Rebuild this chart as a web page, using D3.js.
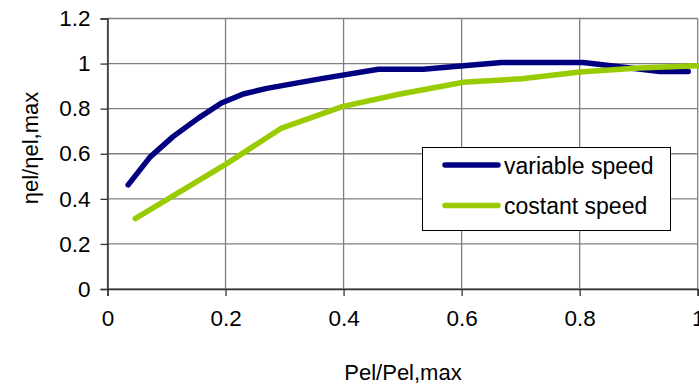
<!DOCTYPE html>
<html>
<head>
<meta charset="utf-8">
<script src="https://cdn.jsdelivr.net/npm/d3@7"></script>
<style>
  body { margin: 0; background: #fff; }
  svg { display: block; font-family: "Liberation Sans", Arial, sans-serif; }
</style>
</head>
<body>
<svg></svg>
<script>
const width = 699;
const height = 384;
const margin = { top: 18.5, right: 1.3, bottom: 95, left: 107.5 };

// data
const variableX = [0.035, 0.072, 0.111, 0.154, 0.193, 0.23, 0.27, 0.36, 0.459, 0.535, 0.603, 0.668, 0.806, 0.936, 0.984];
const variableY = [0.462, 0.585, 0.676, 0.758, 0.825, 0.865, 0.89, 0.932, 0.975, 0.975, 0.99, 1.005, 1.005, 0.965, 0.965];
const constantX = [0.047, 0.2, 0.295, 0.399, 0.496, 0.603, 0.702, 0.8, 0.9, 1.0];
const constantY = [0.312, 0.553, 0.714, 0.81, 0.865, 0.917, 0.933, 0.963, 0.98, 0.99];
const xTicks = [0, 0.2, 0.4, 0.6, 0.8, 1];
const yTicks = [0, 0.2, 0.4, 0.6, 0.8, 1, 1.2];
const seriesNames = ['variable speed', 'costant speed'];
const seriesColors = ['#000080', '#99cc00'];

const svg = d3.select('svg')
  .attr('width', width)
  .attr('height', height);

const xScale = d3.scaleLinear()
  .domain([0, 1])
  .range([margin.left, width - margin.right]);

const yScale = d3.scaleLinear()
  .domain([0, 1.2])
  .range([height - margin.bottom, margin.top]);

// grid
svg.append('g')
  .selectAll('line')
  .data(yTicks)
  .enter()
  .append('line')
  .attr('x1', xScale(0))
  .attr('x2', xScale(1))
  .attr('y1', d => yScale(d))
  .attr('y2', d => yScale(d))
  .attr('stroke', '#808080')
  .attr('stroke-width', 1.3);

svg.append('g')
  .selectAll('line')
  .data(xTicks)
  .enter()
  .append('line')
  .attr('x1', d => xScale(d))
  .attr('x2', d => xScale(d))
  .attr('y1', yScale(0))
  .attr('y2', yScale(1.2))
  .attr('stroke', '#808080')
  .attr('stroke-width', 1.3);

// axes
const yAxis = d3.axisLeft(yScale)
  .tickValues(yTicks)
  .tickSize(7)
  .tickPadding(10)
  .tickFormat(d3.format('~g'));

const xAxis = d3.axisBottom(xScale)
  .tickValues(xTicks)
  .tickSize(7)
  .tickPadding(14)
  .tickFormat(d3.format('~g'));

const styleAxis = g => {
  g.select('.domain').attr('stroke', '#333').attr('stroke-width', 1.5);
  g.selectAll('.tick line').attr('stroke', '#333').attr('stroke-width', 1.3);
  g.selectAll('.tick text')
    .attr('fill', '#000')
    .style('font-size', '22.5px')
    .style('font-family', '"Liberation Sans", Arial, sans-serif');
};

svg.append('g')
  .attr('transform', `translate(${margin.left},0)`)
  .call(yAxis)
  .call(styleAxis);

svg.append('g')
  .attr('transform', `translate(0,${height - margin.bottom})`)
  .call(xAxis)
  .call(styleAxis);

// lines
const line = d3.line()
  .x(d => xScale(d[0]))
  .y(d => yScale(d[1]));

const series = [
  d3.zip(variableX, variableY),
  d3.zip(constantX, constantY)
];

svg.append('g')
  .selectAll('path')
  .data(series)
  .enter()
  .append('path')
  .attr('d', line)
  .attr('fill', 'none')
  .attr('stroke', (d, i) => seriesColors[i])
  .attr('stroke-width', 5.5)
  .attr('stroke-linecap', 'round')
  .attr('stroke-linejoin', 'round');

// legend
const legend = svg.append('g');

legend.append('rect')
  .attr('x', 422.5)
  .attr('y', 147.5)
  .attr('width', 248)
  .attr('height', 83)
  .attr('fill', '#fff')
  .attr('stroke', '#000')
  .attr('stroke-width', 1);

const items = legend.selectAll('g')
  .data(seriesNames)
  .enter()
  .append('g')
  .attr('transform', (d, i) => `translate(0,${165 + i * 40.5})`);

items.append('line')
  .attr('x1', 445)
  .attr('x2', 498)
  .attr('stroke', (d, i) => seriesColors[i])
  .attr('stroke-width', 5.5)
  .attr('stroke-linecap', 'round');

items.append('text')
  .attr('x', 504)
  .attr('y', 8.5)
  .style('font-size', '23px')
  .text(d => d);

// axis titles
svg.append('text')
  .attr('x', 403)
  .attr('y', 380)
  .attr('text-anchor', 'middle')
  .style('font-size', '22px')
  .text('Pel/Pel,max');

svg.append('text')
  .attr('transform', 'translate(38,148) rotate(-90)')
  .attr('text-anchor', 'middle')
  .style('font-size', '22px')
  .text('ηel/ηel,max');
</script>
</body>
</html>
